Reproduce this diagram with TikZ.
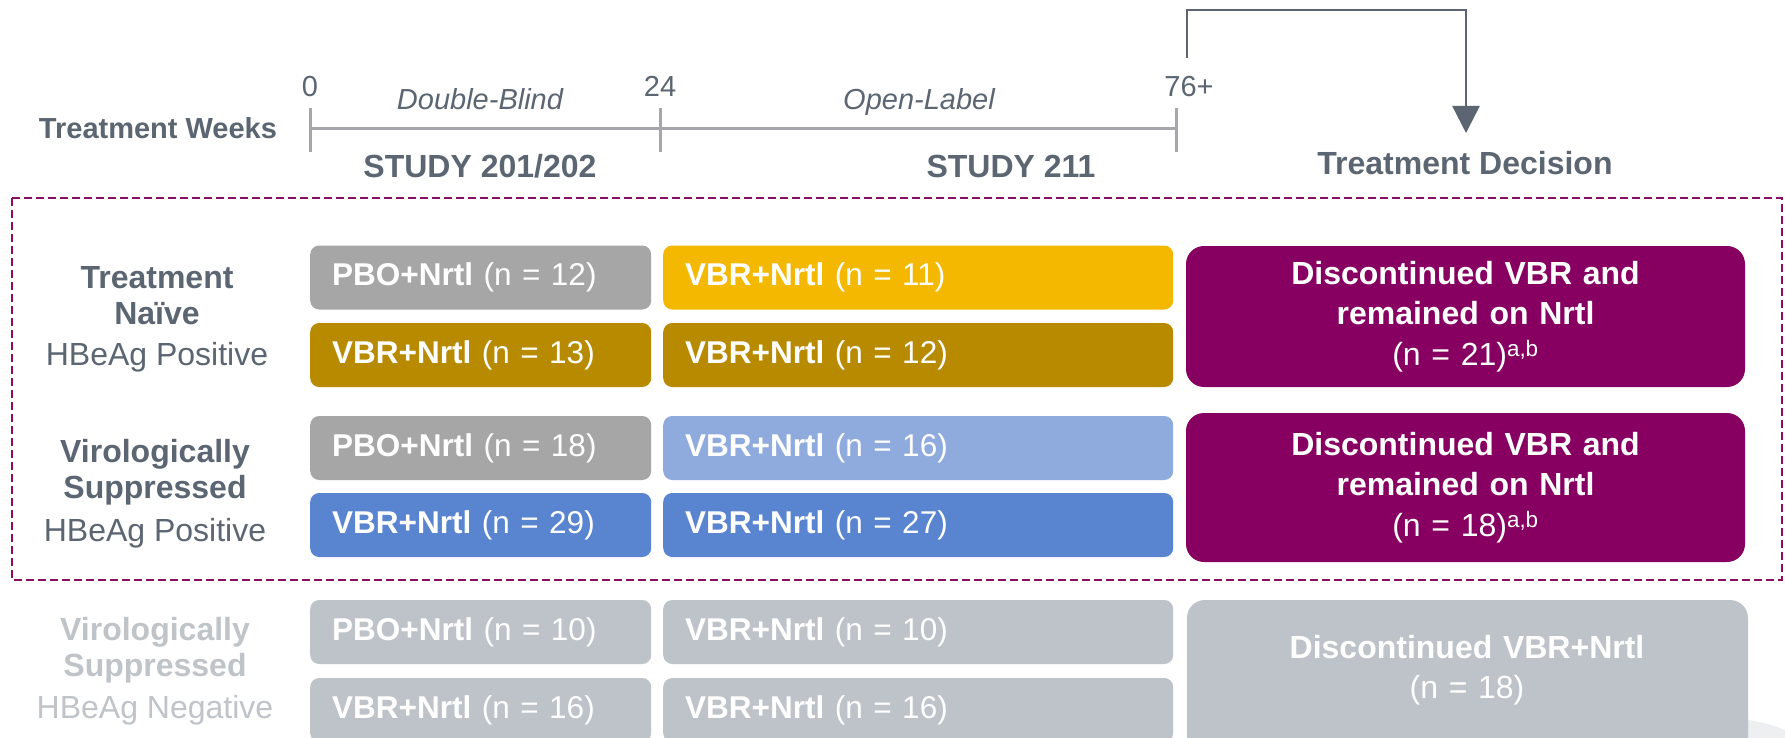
\documentclass[tikz,border=0pt]{standalone}
\usepackage{fontspec}
\setmainfont{Liberation Sans}
\usetikzlibrary{arrows.meta}
\definecolor{slate}{HTML}{5B6672}
\definecolor{tlgray}{HTML}{A9A6AB}
\definecolor{pbogray}{HTML}{A6A6A6}
\definecolor{armyellow}{HTML}{F4B800}
\definecolor{armgold}{HTML}{B88A00}
\definecolor{armlblue}{HTML}{8FABDD}
\definecolor{armblue}{HTML}{5884D0}
\definecolor{armpurple}{HTML}{870061}
\definecolor{faintbox}{HTML}{BDC3C9}
\definecolor{fainttext}{HTML}{BFC4C9}
\definecolor{dashpurple}{HTML}{8C0D63}
\definecolor{ghost}{HTML}{EDEFF1}
\tikzset{
  fsbig/.style={font=\fontsize{32}{40}\selectfont},
  fssmall/.style={font=\fontsize{29}{35}\selectfont},
  armbox/.style={rounded corners=9pt, minimum height=64pt, inner xsep=22pt, inner ysep=0pt,
    align=left, text=white, anchor=west, font=\fontsize{31.5}{38}\selectfont},
  colA/.style={armbox, text width=297pt},
  colB/.style={armbox, text width=466pt},
  decbox/.style={rounded corners=18pt, minimum width=559pt, text width=540pt, align=center,
    text=white, inner sep=0pt, font=\fontsize{32}{40.5}\selectfont},
  grplabel/.style={fsbig, text=slate, anchor=base},
  fgrplabel/.style={fsbig, text=fainttext, anchor=base},
  tllabel/.style={fssmall, text=slate, anchor=base},
  tick/.style={draw=tlgray, line width=3.5pt},
}
\begin{document}
\begin{tikzpicture}[x=1pt,y=-1pt]
\useasboundingbox (0,0) rectangle (1785,738);
\clip (0,0) rectangle (1785,738);
\fill[white] (0,0) rectangle (1785,738);

% faint background disc at bottom right
\fill[ghost] (1727,868.5) circle (150);

% timeline
\coordinate (t0top) at (310,108);
\coordinate (t0bot) at (310,152);
\coordinate (t24top) at (660,108);
\coordinate (t24bot) at (660,152);
\coordinate (t76top) at (1176,108);
\coordinate (t76bot) at (1176,152);
\coordinate (t0) at (310,128.5);
\coordinate (t76) at (1176,128.5);
\draw[tick] (t0) -- (t76);
\draw[tick, line width=3pt] (t0top) -- (t0bot);
\draw[tick, line width=3pt] (t24top) -- (t24bot);
\draw[tick, line width=3pt] (t76top) -- (t76bot);

\node[tllabel] (w0) at (310,97) {0};
\node[tllabel] (w24) at (660,97) {24};
\node[tllabel] (w76) at (1189,97) {76+};
\node[tllabel, font=\fontsize{29}{35}\selectfont\itshape] (db) at (480,110) {Double-Blind};
\node[tllabel, font=\fontsize{29}{35}\selectfont\itshape] (ol) at (919,110) {Open-Label};
\node[tllabel, font=\fontsize{29}{35}\selectfont\bfseries] (tw) at (158,138.5) {Treatment Weeks};
\node[grplabel, font=\fontsize{32}{40}\selectfont\bfseries] (s1) at (480,178) {STUDY 201/202};
\node[grplabel, font=\fontsize{32}{40}\selectfont\bfseries] (s2) at (1011,178) {STUDY 211};
\node[grplabel, font=\fontsize{32}{40}\selectfont\bfseries] (td) at (1465,175) {Treatment Decision};

% bracket arrow
\coordinate (brS) at (1187,58);
\coordinate (brT) at (1466,133);
\draw[slate, line width=2.5pt, -{Triangle[width=27pt,length=27pt]}] (brS) |- (1466,10) -- (brT);

% dashed frame
\draw[dashpurple, line width=2.5pt, dash pattern=on 8pt off 4pt] (12,198) rectangle (1782,580);

% group labels
\node[grplabel, font=\fontsize{32}{40}\selectfont\bfseries] (g1a) at (157,288.5) {Treatment};
\node[grplabel, font=\fontsize{32}{40}\selectfont\bfseries] (g1b) at (157,324.5) {Naïve};
\node[grplabel] (g1c) at (157,365.5) {HBeAg Positive};
\node[grplabel, font=\fontsize{32}{40}\selectfont\bfseries] (g2a) at (155,462) {Virologically};
\node[grplabel, font=\fontsize{32}{40}\selectfont\bfseries] (g2b) at (155,498) {Suppressed};
\node[grplabel] (g2c) at (155,541) {HBeAg Positive};
\node[fgrplabel, font=\fontsize{32}{40}\selectfont\bfseries] (g3a) at (155,640) {Virologically};
\node[fgrplabel, font=\fontsize{32}{40}\selectfont\bfseries] (g3b) at (155,676) {Suppressed};
\node[fgrplabel] (g3c) at (155,718) {HBeAg Negative};

% arm boxes
\node[colA, fill=pbogray] (a1) at (310,277.5) {\textbf{PBO+Nrtl} (n = 12)};
\node[colA, fill=armgold] (a2) at (310,355) {\textbf{VBR+Nrtl} (n = 13)};
\node[colA, fill=pbogray] (a3) at (310,448) {\textbf{PBO+Nrtl} (n = 18)};
\node[colA, fill=armblue] (a4) at (310,525) {\textbf{VBR+Nrtl} (n = 29)};
\node[colA, fill=faintbox] (a5) at (310,632) {\textbf{PBO+Nrtl} (n = 10)};
\node[colA, fill=faintbox] (a6) at (310,710) {\textbf{VBR+Nrtl} (n = 16)};

\node[colB, fill=armyellow] (b1) at (663,277.5) {\textbf{VBR+Nrtl} (n = 11)};
\node[colB, fill=armgold] (b2) at (663,355) {\textbf{VBR+Nrtl} (n = 12)};
\node[colB, fill=armlblue] (b3) at (663,448) {\textbf{VBR+Nrtl} (n = 16)};
\node[colB, fill=armblue] (b4) at (663,525) {\textbf{VBR+Nrtl} (n = 27)};
\node[colB, fill=faintbox] (b5) at (663,632) {\textbf{VBR+Nrtl} (n = 10)};
\node[colB, fill=faintbox] (b6) at (663,710) {\textbf{VBR+Nrtl} (n = 16)};

% decision boxes
\node[decbox, fill=armpurple, minimum height=141pt] (d1) at (1465.5,316.5)
  {\textbf{Discontinued VBR and}\\\textbf{remained on Nrtl}\\(n = 21)\textsuperscript{a,b}};
\node[decbox, fill=armpurple, minimum height=149pt] (d2) at (1465.5,487.5)
  {\textbf{Discontinued VBR and}\\\textbf{remained on Nrtl}\\(n = 18)\textsuperscript{a,b}};
\node[decbox, fill=faintbox, minimum width=561pt, minimum height=170pt] (d3) at (1467.5,685) {};
\node[decbox, fill=none] (d3t) at (1467,670)
  {\textbf{Discontinued VBR+Nrtl}\\(n = 18)};
\end{tikzpicture}
\end{document}
